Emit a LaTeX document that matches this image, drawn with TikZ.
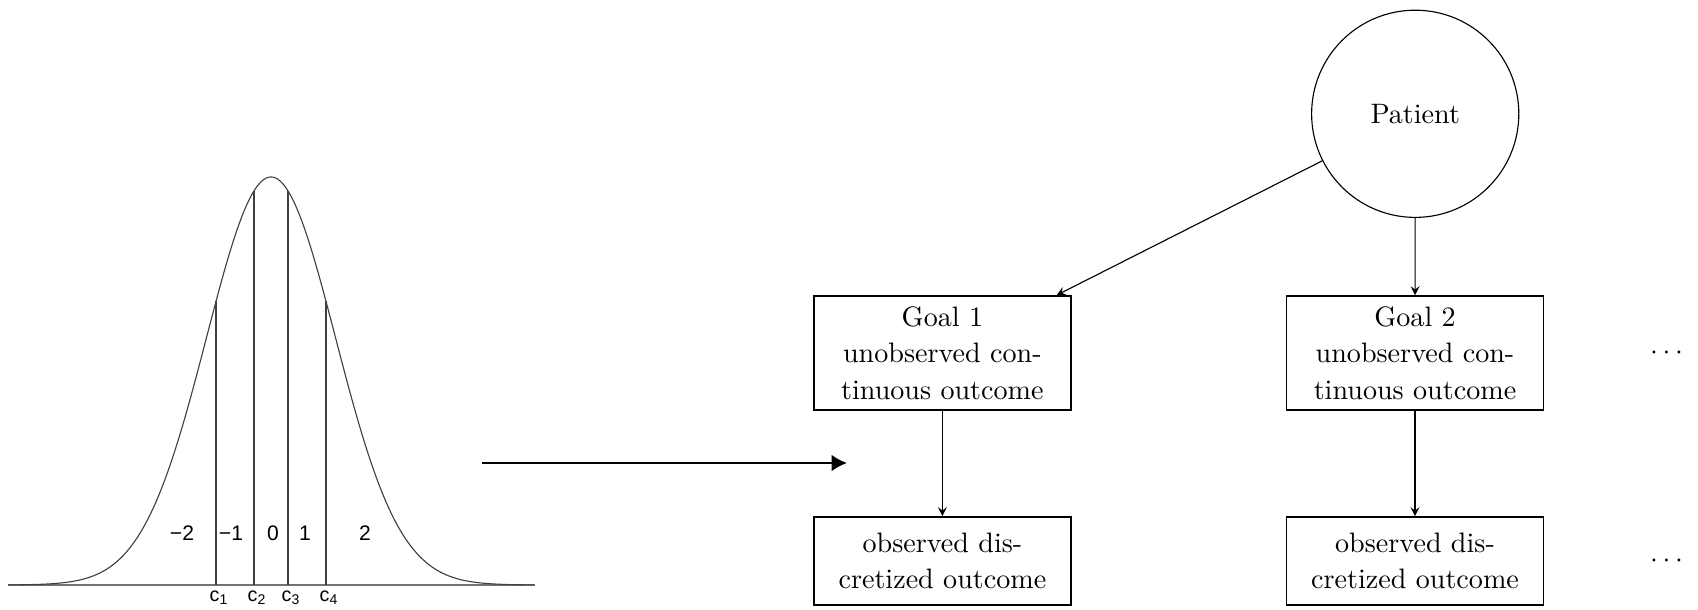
\documentclass[tikz,border=0pt]{standalone}
\usepackage{amsmath,amssymb}
\usepackage{fontspec}
\newfontfamily\arialfont{Liberation Sans}
\usepackage{tikz}
\usetikzlibrary{arrows.meta}
\tikzset{
  goalbox/.style={draw,line width=0.6pt,minimum width=3.21cm,align=center,font=\fontsize{10}{13}\selectfont},
  arealab/.style={font=\arialfont\fontsize{7.5}{9}\selectfont,inner sep=1pt},
  cutlab/.style={font=\arialfont\fontsize{7}{8}\selectfont,inner sep=0.5pt,anchor=north},
}

\begin{document}
\begin{tikzpicture}[>=stealth]
\useasboundingbox (0,0) rectangle (21.225,7.6125);
\draw[black!55] (0.1,0.3) -- (6.6875,0.3);
\draw[black!75,smooth] plot[domain=-4.08:4.08,samples=120] ({3.3875+0.806*\x},{0.3+5.1*exp(-0.5*(\x)*(\x))});
\foreach \z/\i in {-0.853/1,-0.2636/2,0.2636/3,0.853/4} {
  \draw[black!75] ({3.3875+0.806*\z},0.3) -- ({3.3875+0.806*\z},{0.3+5.1*exp(-0.5*(\z)*(\z))});
  \node[cutlab] (c\i) at ({3.3875+0.806*\z+0.04},0.255) {c\textsubscript{\i}};
}
\foreach \xx/\lab [count=\k] in {2.275/−2,2.8875/−1,3.4125/0,3.8125/1,4.5625/2}
  \node[arealab] (reg\k) at (\xx,0.95) {\lab};
\coordinate (arrowstart) at (6.025,1.825);
\coordinate (arrowend) at (10.5875,1.825);
\draw[-{Latex[length=5.5pt,width=6pt]},line width=0.8pt] (arrowstart) -- (arrowend);
\node[circle,draw,minimum size=2.59cm] (patient) at (17.69,6.19) {Patient};
\node[goalbox,minimum height=1.425cm] (goal1) at (11.78,3.2) {Goal 1\\unobserved con-\\tinuous outcome};
\node[goalbox,minimum height=1.425cm] (goal2) at (17.6875,3.2) {Goal 2\\unobserved con-\\tinuous outcome};
\node[goalbox,minimum height=1.1cm] (obs1) at (11.78,0.6) {observed dis-\\cretized outcome};
\node[goalbox,minimum height=1.1cm] (obs2) at (17.6875,0.6) {observed dis-\\cretized outcome};
\node (dots1) at (20.86,3.2) {$\cdots$};
\node (dots2) at (20.86,0.6) {$\cdots$};
\draw[->] (patient) -- (goal1);
\draw[->] (patient) -- (goal2);
\draw[->] (goal1) -- (obs1);
\draw[->] (goal2) -- (obs2);
\end{tikzpicture}
\end{document}
